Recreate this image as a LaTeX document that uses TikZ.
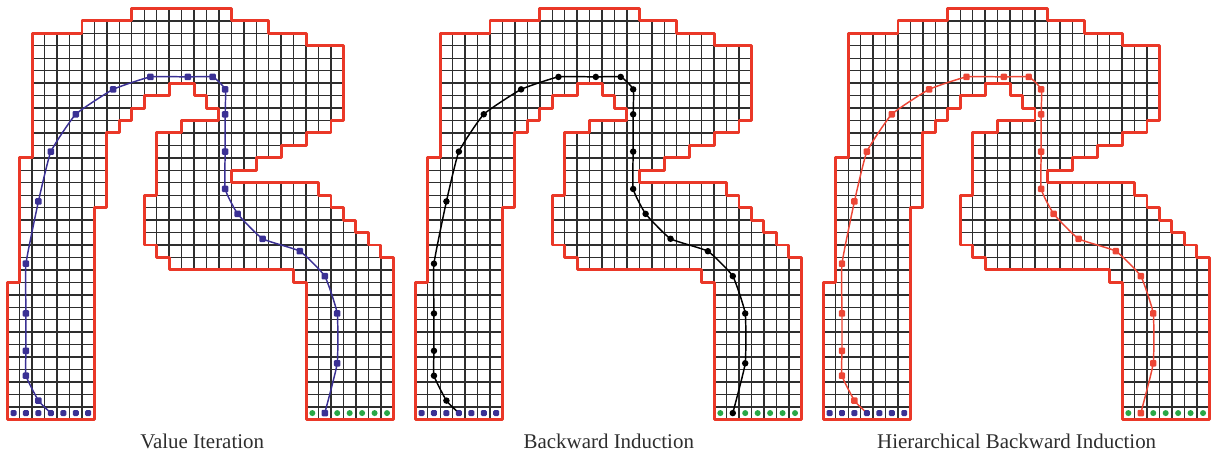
\documentclass[tikz,border=0pt]{standalone}
\usepackage{fontspec}
\setmainfont{Liberation Serif}

\definecolor{trackred}{RGB}{234,56,40}
\definecolor{viblue}{RGB}{58,48,148}
\definecolor{startblue}{RGB}{58,48,148}
\definecolor{finishgreen}{RGB}{40,168,70}
\definecolor{hbired}{RGB}{236,70,54}
\definecolor{labelgray}{RGB}{45,45,45}

\tikzset{
  gridline/.style={line width=1.05pt, black!82, step=1},
  trackedge/.style={draw=trackred, line width=2.2pt, line join=round},
  route/.style={line width=1.1pt},
  caption/.style={font=\fontsize{15.7}{18}\selectfont, text=labelgray, anchor=base}
}

% outline of the race track, in grid cells
\def\trackoutline{(0,0) -- (7,0) -- (7,17) -- (8,17) -- (8,23) -- (9,23) -- (9,24) -- (10,24) -- (10,25) -- (11,25) -- (11,26) -- (13,26) -- (13,27) -- (15,27) -- (15,26) -- (16,26) -- (16,25) -- (17,25) -- (17,24) -- (14,24) -- (14,23) -- (12,23) -- (12,18) -- (11,18) -- (11,14) -- (12,14) -- (12,13) -- (13,13) -- (13,12) -- (23,12) -- (23,11) -- (24,11) -- (24,0) -- (31,0) -- (31,13) -- (30,13) -- (30,14) -- (29,14) -- (29,15) -- (28,15) -- (28,16) -- (27,16) -- (27,17) -- (26,17) -- (26,18) -- (25,18) -- (25,19) -- (18,19) -- (18,20) -- (20,20) -- (20,21) -- (22,21) -- (22,22) -- (24,22) -- (24,23) -- (26,23) -- (26,24) -- (27,24) -- (27,30) -- (24,30) -- (24,31) -- (21,31) -- (21,32) -- (18,32) -- (18,33) -- (10,33) -- (10,32) -- (6,32) -- (6,31) -- (2,31) -- (2,21) -- (1,21) -- (1,11) -- (0,11) -- cycle}

% one track with its route: #1 = left offset, #2 = route colour, #3 = dot corner radius
\newcommand\drawpanel[3]{%
  \begin{scope}[shift={(#1,2.787)}]
    \begin{scope}
      \clip \trackoutline;
      \draw[gridline] (0,0) grid (31,33);
    \end{scope}
    \draw[trackedge] \trackoutline;
    \draw[route,#2] plot[smooth,tension=0.25] coordinates {(3.5,0.5) (2.5,1.5) (1.5,3.5) (1.5,5.5) (1.5,8.5) (1.5,12.5) (2.5,17.5) (3.5,21.5) (5.5,24.5) (8.5,26.5) (11.5,27.5) (14.5,27.5) (16.5,27.5) (17.5,26.5) (17.5,24.5) (17.5,21.5) (17.5,18.5) (18.5,16.5) (20.5,14.5) (23.5,13.5) (25.5,11.5) (26.5,8.5) (26.5,4.5) (25.5,0.5)};
    \foreach \px/\py in {2.5/1.5, 1.5/3.5, 1.5/5.5, 1.5/8.5, 1.5/12.5, 2.5/17.5, 3.5/21.5, 5.5/24.5, 8.5/26.5, 11.5/27.5, 14.5/27.5, 16.5/27.5, 17.5/26.5, 17.5/24.5, 17.5/21.5, 17.5/18.5, 18.5/16.5, 20.5/14.5, 23.5/13.5, 25.5/11.5, 26.5/8.5, 26.5/4.5, 25.5/0.5}
      \fill[#2, rounded corners=#3] (\px-0.26,\py-0.26) rectangle (\px+0.26,\py+0.26);
    % start line
    \foreach \px in {0.5,1.5,...,6.5}
      \fill[startblue, rounded corners=1pt] (\px-0.24,0.26) rectangle (\px+0.24,0.74);
    % finish line
    \foreach \px in {24.5,26.5,27.5,28.5,29.5,30.5}
      \fill[finishgreen, rounded corners=2.2pt] (\px-0.24,0.26) rectangle (\px+0.24,0.74);
  \end{scope}}

\begin{document}
\begin{tikzpicture}[x=9.3375pt, y=9.3375pt]
  \useasboundingbox (0,0) rectangle (97.67,36.466);
  \drawpanel{0.586}{viblue}{0.8pt}
  \drawpanel{33.357}{black}{2.4pt}
  \drawpanel{66.129}{hbired}{0.8pt}
  \node[caption] (vi) at (16.24,0.426) {Value Iteration};
  \node[caption] (bi) at (48.90,0.426) {Backward Induction};
  \node[caption] (hbi) at (81.66,0.426) {Hierarchical Backward Induction};
\end{tikzpicture}
\end{document}
